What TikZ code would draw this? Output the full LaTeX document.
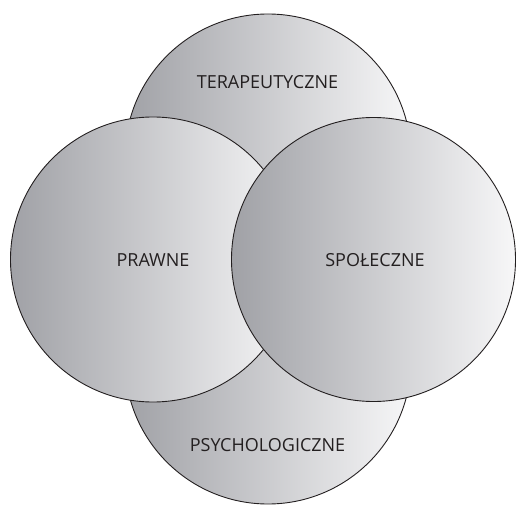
\documentclass[tikz,border=0pt]{standalone}
\usepackage{fontspec}
\setmainfont{Open Sans}
\definecolor{shadeL}{RGB}{160,161,166}
\definecolor{shadeR}{RGB}{247,247,248}
\definecolor{inkc}{RGB}{35,31,32}
\begin{document}
\begin{tikzpicture}[x=1pt,y=1pt,
  bubble/.style={circle, draw=inkc, line width=0.9pt, left color=shadeL, right color=shadeR, inner sep=0pt},
  lbl/.style={font=\fontsize{18}{20}\selectfont, text=inkc}]
\useasboundingbox (0,0) rectangle (516,506);
\node[bubble, minimum size=286pt] (top) at (268,349) {};
\node[bubble, minimum size=286pt] (bot) at (268,145) {};
\node[bubble, minimum size=285pt] (left) at (153,246.5) {};
\node[bubble, minimum size=284pt] (right) at (373.5,246.5) {};
\node[lbl] (ttop) at (267.5,424) {TERAPEUTYCZNE};
\node[lbl] (tbot) at (267.5,61) {PSYCHOLOGICZNE};
\node[lbl] (tleft) at (153,246) {PRAWNE};
\node[lbl] (tright) at (375,246) {SPOŁECZNE};
\end{tikzpicture}
\end{document}
